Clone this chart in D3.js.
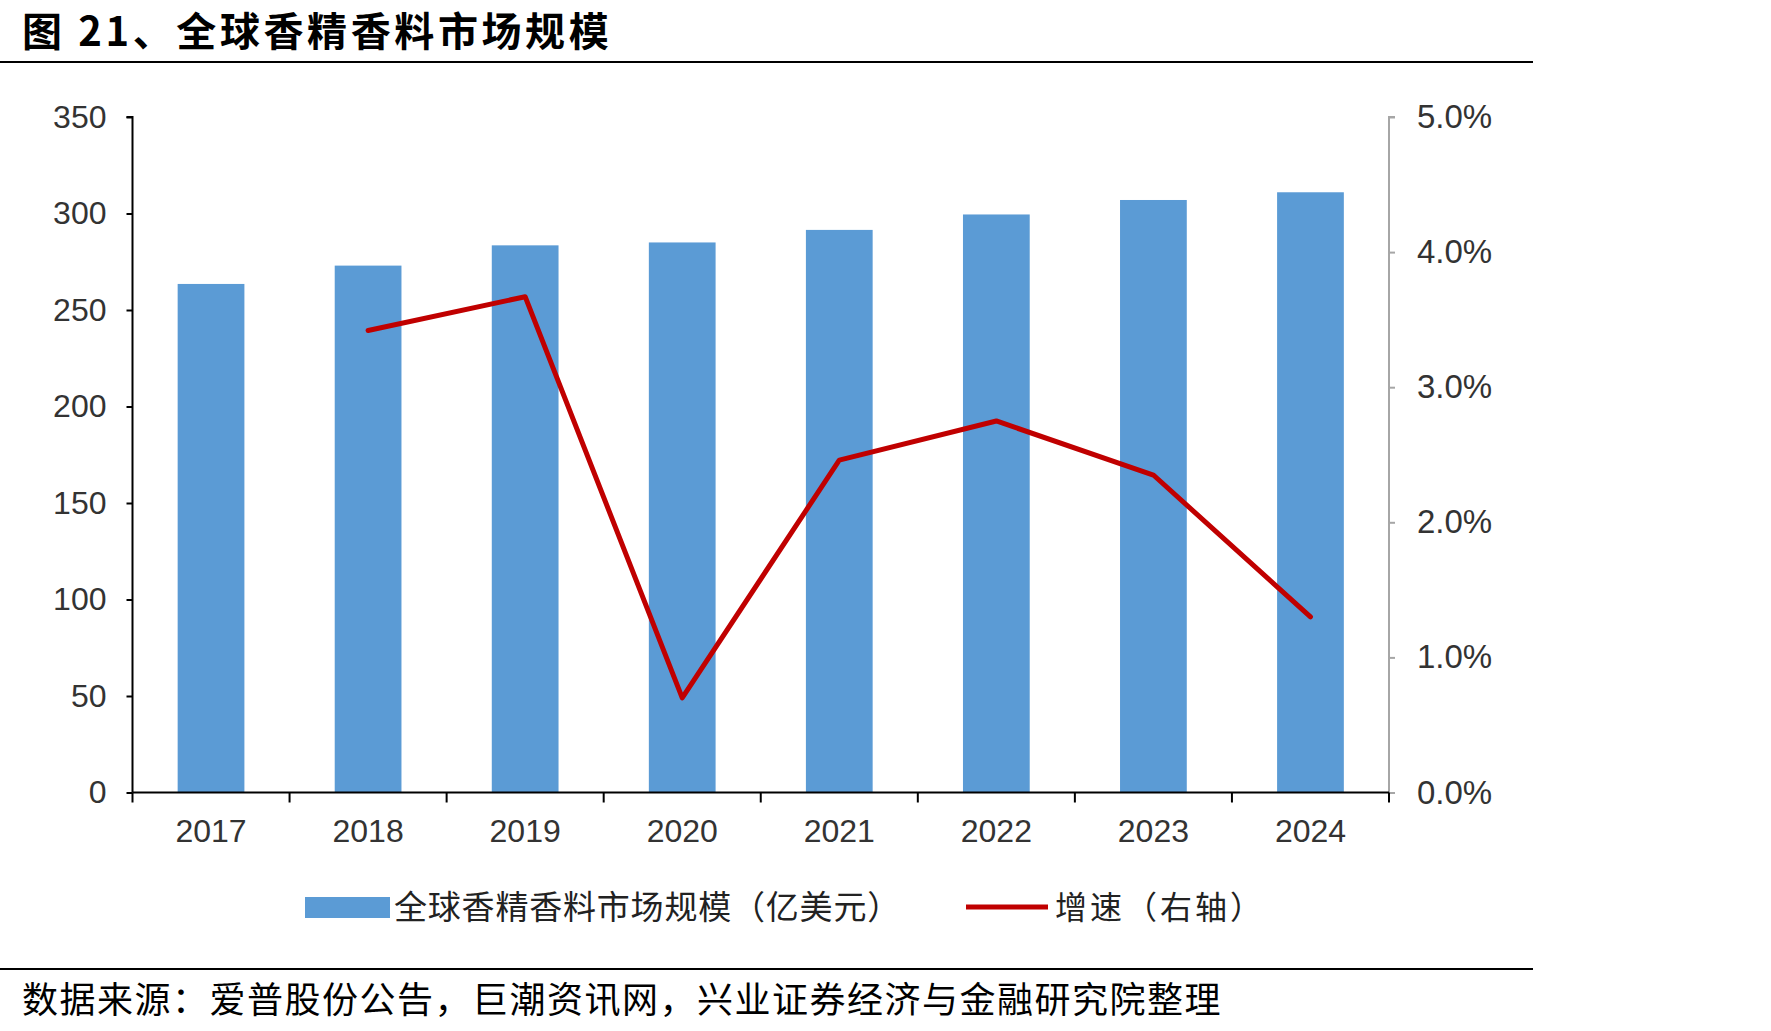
<!DOCTYPE html>
<html>
<head>
<meta charset="utf-8">
<script src="https://cdn.jsdelivr.net/npm/d3@7"></script>
<style>
  html, body { margin: 0; padding: 0; background: #fff; }
  svg { display: block; }
</style>
</head>
<body>
<script>
// ---- data ----
const years = ["2017", "2018", "2019", "2020", "2021", "2022", "2023", "2024"];
const marketSize = [263.5, 273, 283.5, 285, 291.5, 299.5, 307, 311];          // 亿美元
const growthRate = [null, 0.0342, 0.0367, 0.0070, 0.0246, 0.0275, 0.0235, 0.0130]; // 增速
const leftTicks = [0, 50, 100, 150, 200, 250, 300, 350];
const rightTicks = [0, 0.01, 0.02, 0.03, 0.04, 0.05];
const titleText = "图 21、全球香精香料市场规模";
const sourceText = "数据来源：爱普股份公告，巨潮资讯网，兴业证券经济与金融研究院整理";
const legendBar = "全球香精香料市场规模（亿美元）";
const legendLine = "增速（右轴）";

// ---- layout ----
const W = 1771, H = 1031;
const plot = { left: 132.5, right: 1389, top: 117, bottom: 792.5 };
const cjk = "'Noto Sans CJK SC', 'Noto Sans', sans-serif";
const latin = "'Liberation Sans', Arial, sans-serif";

const svg = d3.select("body").append("svg").attr("width", W).attr("height", H);

// title
svg.append("text").attr("x", 22).attr("y", 46)
  .attr("font-family", cjk).attr("font-weight", "bold").attr("font-size", 40)
  .attr("letter-spacing", 3.6).attr("fill", "#000")
  .text(titleText);
svg.append("line").attr("x1", 0).attr("x2", 1533).attr("y1", 62).attr("y2", 62)
  .attr("stroke", "#000").attr("stroke-width", 2);

// scales
const x = d3.scaleBand().domain(years).range([plot.left, plot.right]).paddingInner(0.575).paddingOuter(0.2875);
const xEdge = d3.scaleBand().domain(years).range([plot.left, plot.right]).padding(0);
const yL = d3.scaleLinear().domain([0, 350]).range([plot.bottom, plot.top]);
const yR = d3.scaleLinear().domain([0, 0.05]).range([plot.bottom, plot.top]);

// bars
svg.append("g").selectAll("rect").data(years).join("rect")
  .attr("x", d => x(d)).attr("width", x.bandwidth())
  .attr("y", (d, i) => yL(marketSize[i]))
  .attr("height", (d, i) => plot.bottom - yL(marketSize[i]))
  .attr("fill", "#5B9BD5");

// left axis
const gL = svg.append("g").attr("transform", `translate(${plot.left},0)`)
  .call(d3.axisLeft(yL).tickValues(leftTicks).tickSize(6).tickPadding(20).tickFormat(d3.format("d")));
gL.select(".domain").attr("stroke", "#000").attr("stroke-width", 2).attr("d", `M-6,${plot.top}H0V${plot.bottom}`);
gL.selectAll(".tick line").attr("stroke", "#000").attr("stroke-width", 2);
gL.selectAll(".tick text").attr("font-family", latin).attr("font-size", 32).attr("fill", "#333");

// right axis
const gR = svg.append("g").attr("transform", `translate(${plot.right},0)`)
  .call(d3.axisRight(yR).tickValues(rightTicks).tickSize(6).tickPadding(22).tickFormat(d3.format(".1%")));
gR.select(".domain").attr("stroke", "#a6a6a6").attr("stroke-width", 2).attr("d", `M6,${plot.top}H0V${plot.bottom}`);
gR.selectAll(".tick line").attr("stroke", "#a6a6a6").attr("stroke-width", 2);
gR.selectAll(".tick text").attr("font-family", latin).attr("font-size", 33).attr("fill", "#333");

// x axis
const gX = svg.append("g").attr("transform", `translate(0,${plot.bottom})`)
  .call(d3.axisBottom(x).tickSize(0).tickPadding(27));
gX.select(".domain").attr("stroke", "#000").attr("stroke-width", 2).attr("d", `M${plot.left},0H${plot.right}`);
gX.selectAll(".tick text").attr("font-family", latin).attr("font-size", 32).attr("fill", "#333");
// boundary ticks
const edges = years.map(d => xEdge(d)).concat([plot.right]);
svg.append("g").selectAll("line").data(edges).join("line")
  .attr("x1", d => d).attr("x2", d => d)
  .attr("y1", plot.bottom).attr("y2", plot.bottom + 10)
  .attr("stroke", "#000").attr("stroke-width", 2);

// growth line
const lineData = years.map((d, i) => ({ d, v: growthRate[i] })).filter(p => p.v !== null);
svg.append("path").datum(lineData)
  .attr("fill", "none").attr("stroke", "#C00000").attr("stroke-width", 5)
  .attr("stroke-linejoin", "round").attr("stroke-linecap", "round")
  .attr("d", d3.line().x(p => x(p.d) + x.bandwidth() / 2).y(p => yR(p.v)));

// legend
const lg = svg.append("g");
lg.append("rect").attr("x", 305).attr("y", 897).attr("width", 85).attr("height", 21).attr("fill", "#5B9BD5");
lg.append("text").attr("x", 394).attr("y", 919).attr("font-family", cjk).attr("font-size", 33)
  .attr("fill", "#222").attr("letter-spacing", 0.8).text(legendBar);
lg.append("line").attr("x1", 966).attr("x2", 1048).attr("y1", 907).attr("y2", 907)
  .attr("stroke", "#C00000").attr("stroke-width", 5);
lg.append("text").attr("x", 1055).attr("y", 919).attr("font-family", cjk).attr("font-size", 32)
  .attr("fill", "#222").attr("letter-spacing", 3).text(legendLine);

// source line & text
svg.append("line").attr("x1", 0).attr("x2", 1533).attr("y1", 969).attr("y2", 969)
  .attr("stroke", "#000").attr("stroke-width", 2);
svg.append("text").attr("x", 22).attr("y", 1013).attr("font-family", cjk).attr("font-size", 36)
  .attr("fill", "#000").attr("letter-spacing", 1.5).text(sourceText);
</script>
</body>
</html>
